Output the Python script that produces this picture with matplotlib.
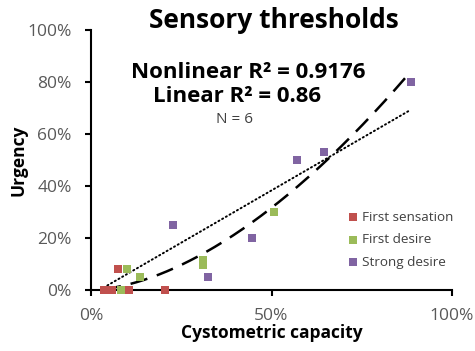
import numpy as np
import matplotlib
matplotlib.use('Agg')
from matplotlib import pyplot as plt

# Values (fractions of 1).
sensation_x = [0.035, 0.058, 0.105, 0.205, 0.075, 0.040]
sensation_y = [0.0, 0.0, 0.0, 0.0, 0.08, 0.0]
first_desire_x = [0.083, 0.100, 0.136, 0.310, 0.310, 0.507]
first_desire_y = [0.0, 0.08, 0.05, 0.115, 0.096, 0.30]
strong_desire_x = [0.227, 0.324, 0.446, 0.570, 0.645, 0.886]
strong_desire_y = [0.25, 0.05, 0.20, 0.50, 0.53, 0.80]

# Trend lines as drawn in the reference.
nonlinear_coef, nonlinear_power = 1.034, 1.71
linear_slope, linear_intercept = 0.804, -0.019

series = [
    ('First sensation', sensation_x, sensation_y, '#C0504D'),
    ('First desire', first_desire_x, first_desire_y, '#9BBB59'),
    ('Strong desire', strong_desire_x, strong_desire_y, '#8064A2'),
]

plt.rcParams['font.family'] = ['Open Sans', 'DejaVu Sans']

fig = plt.figure(figsize=(4.75, 3.51), dpi=100)
ax = fig.add_axes([91 / 475, 1 - 290 / 351, 361 / 475, 260 / 351])

for name, xs, ys, color in series:
    ax.scatter(xs, ys, marker='s', s=32, color=color, label=name,
               linewidths=0, zorder=3, clip_on=False)

all_x = np.concatenate([sensation_x, first_desire_x, strong_desire_x])
xx = np.linspace(all_x.min(), all_x.max(), 200)
ax.plot(xx, nonlinear_coef * xx ** nonlinear_power, color='black', lw=1.8,
        dashes=(7, 4), zorder=2)
ax.plot(xx, linear_slope * xx + linear_intercept, color='black', lw=1.4,
        linestyle=(0, (0.6, 1.6)), dash_capstyle='round', zorder=2)

ax.set_xlim(0, 1)
ax.set_ylim(0, 1)
ax.set_xticks([0, 0.5, 1])
ax.set_xticklabels(['0%', '50%', '100%'])
ax.set_yticks(np.arange(0, 1.01, 0.2))
ax.set_yticklabels(['0%', '20%', '40%', '60%', '80%', '100%'])
for side in ['top', 'right']:
    ax.spines[side].set_visible(False)
for side in ['left', 'bottom']:
    ax.spines[side].set_linewidth(1.5)
ax.tick_params(direction='out', length=4, width=1.5, labelsize=12.5,
               labelcolor='#595959')
ax.tick_params(axis='x', pad=9)
ax.tick_params(axis='y', pad=10)

ax.set_xlabel('Cystometric capacity', fontsize=12.5, fontweight='bold', labelpad=0)
ax.set_ylabel('Urgency', fontsize=12.5, fontweight='bold', labelpad=0)

fig.text(274 / 475, 1 - 21 / 351, 'Sensory thresholds', fontsize=19,
         fontweight='bold', ha='center', va='center')
fig.text(248 / 475, 1 - 72 / 351, 'Nonlinear R² = 0.9176', fontsize=16,
         fontweight='bold', ha='center', va='center')
fig.text(237 / 475, 1 - 96 / 351, 'Linear R² = 0.86', fontsize=16,
         fontweight='bold', ha='center', va='center')
fig.text(234 / 475, 1 - 119 / 351, 'N = 6', fontsize=11,
         color='#404040', ha='center', va='center')

ax.legend(loc='upper left', bbox_to_anchor=(0.712, 0.305), frameon=False,
          fontsize=9.7, labelcolor='#404040', handlelength=0.7,
          handletextpad=0.34, labelspacing=0.7, markerscale=1.0,
          borderaxespad=0, borderpad=0)

fig.savefig('out.png', dpi=100)
